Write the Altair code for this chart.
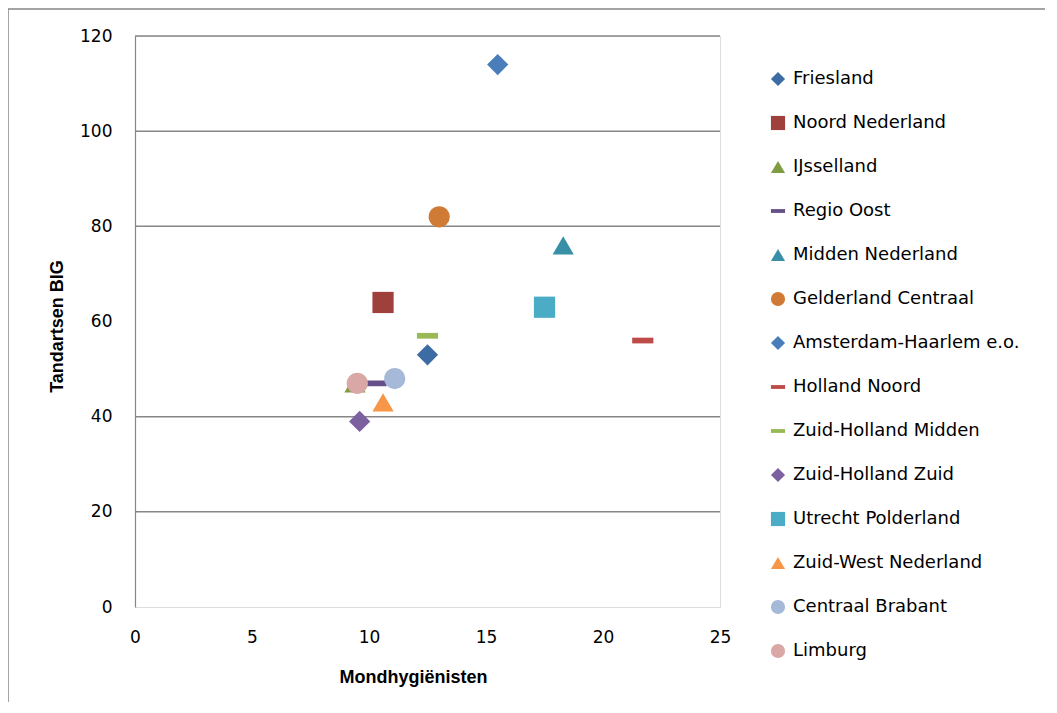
import altair as alt
import pandas as pd

series = ["Friesland", "Noord Nederland", "IJsselland", "Regio Oost", "Midden Nederland",
          "Gelderland Centraal", "Amsterdam-Haarlem e.o.", "Holland Noord", "Zuid-Holland Midden",
          "Zuid-Holland Zuid", "Utrecht Polderland", "Zuid-West Nederland", "Centraal Brabant", "Limburg"]
mondhygienisten = [12.5, 10.6, 9.4, 10.3, 18.3, 13.0, 15.5, 21.7, 12.5, 9.6, 17.5, 10.6, 11.1, 9.5]
tandartsen = [53, 64, 47, 47, 76, 82, 114, 56, 57, 39, 63, 43, 48, 47]
colors = ["#3D6BA3", "#A0403D", "#7F9C42", "#664F88", "#398FA5", "#CF7B36", "#4A7EBB",
          "#BE4B48", "#98B954", "#7D60A0", "#4BACC6", "#F79646", "#A7B9D9", "#D9A7A6"]
DASH = "M-1,-0.27L1,-0.27L1,0.27L-1,0.27Z"
shapes = ["diamond", "square", "triangle-up", DASH, "triangle-up", "circle", "diamond",
          DASH, DASH, "diamond", "square", "triangle-up", "circle", "circle"]
gridlines = [20, 40, 80, 100, 120]

df = pd.DataFrame({"Regio": series, "Mondhygiënisten": mondhygienisten, "Tandartsen BIG": tandartsen,
                   "volgorde": list(range(len(series)))})
grid_df = pd.DataFrame({"Tandartsen BIG": gridlines})

W, H = 585, 571
FONT = "DejaVu Sans"
TFONT = "Liberation Sans"

grid = alt.Chart(grid_df).mark_rule(color="#868686", strokeWidth=1.5).encode(
    y=alt.Y("Tandartsen BIG:Q", scale=alt.Scale(domain=[0, 120]), title="Tandartsen BIG"),
    x=alt.value(0), x2=alt.value(W)
)

points = alt.Chart(df).mark_point(filled=True, size=450, opacity=1).encode(
    x=alt.X("Mondhygiënisten:Q", scale=alt.Scale(domain=[0, 25]), title="Mondhygiënisten",
            axis=alt.Axis(values=[0, 5, 10, 15, 20, 25], domain=False, ticks=False, grid=False,
                          labelFlush=False, labelOverlap=False,
                          labelPadding=22, labelFontSize=17, labelFont=FONT, labelColor="#000",
                          titleFont=TFONT, titleFontSize=18, titleFontWeight="bold", titleColor="#000",
                          titleX=278, titleY=70, titleBaseline="middle")),
    y=alt.Y("Tandartsen BIG:Q", scale=alt.Scale(domain=[0, 120]), title="Tandartsen BIG",
            axis=alt.Axis(values=[0, 20, 40, 60, 80, 100, 120], domain=True, domainColor="#868686",
                          domainWidth=1.2, ticks=False, grid=False, labelOverlap=False,
                          labelPadding=23, labelFontSize=17, labelFont=FONT, labelColor="#000",
                          titleFont=TFONT, titleFontSize=18, titleFontWeight="bold", titleColor="#000",
                          titleX=-78, titleY=290, titleBaseline="middle")),
    color=alt.Color("Regio:N", scale=alt.Scale(domain=series, range=colors),
                    legend=alt.Legend(title=None, orient="none", legendX=634, legendY=34,
                                      labelFont=FONT, labelFontSize=18, labelColor="#000",
                                      labelLimit=0, symbolSize=200, rowPadding=26, padding=0,
                                      labelOffset=6, symbolStrokeWidth=0)),
    shape=alt.Shape("Regio:N", scale=alt.Scale(domain=series, range=shapes), legend=alt.Legend(title=None)),
    order=alt.Order("volgorde:Q"),
)

border_df = pd.DataFrame({"a": [0]})
border_top = alt.Chart(border_df).mark_rule(color="#868686", strokeWidth=1.5).encode(
    x=alt.value(-127), x2=alt.value(W + 330), y=alt.value(-27)
)
border_left = alt.Chart(border_df).mark_rule(color="#868686", strokeWidth=1.5).encode(
    x=alt.value(-127), y=alt.value(-27), y2=alt.value(H + 110)
)

chart = alt.layer(grid, points, border_top, border_left).properties(
    width=W, height=H,
    autosize=alt.AutoSizeParams(type="none"),
    padding={"left": 127, "top": 28, "right": 325, "bottom": 95},
).configure_view(stroke=None).configure(background="white")

chart.save("out.html", embed_options={"renderer": "svg", "actions": False})
